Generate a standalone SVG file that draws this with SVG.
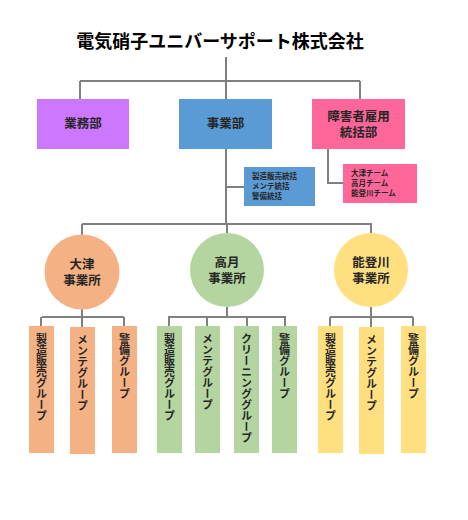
<svg xmlns="http://www.w3.org/2000/svg" width="468" height="520" viewBox="0 0 468 520">
<style>
text{font-family:"Noto Sans CJK JP","Noto Sans CJK SC",sans-serif;fill:#262626;}
.t{font-size:18px;font-weight:bold;fill:#000;}
.b{font-size:12.5px;font-weight:bold;text-anchor:middle;}
.s{font-size:7.5px;font-weight:bold;}
.v{font-family:"Noto Sans CJK JP",sans-serif;font-size:11px;font-weight:bold;writing-mode:vertical-rl;text-orientation:upright;}
.ln{stroke:#808080;stroke-width:2;fill:none;}
.o{fill:#F4B183;}
.g{fill:#B5D5A0;}
.y{fill:#FFDF80;}
</style>
<rect width="468" height="520" fill="#fff"/>
<g id="connectors" class="ln">
<path d="M226 57V81M80 81H360M80 81V99M226 81V99M360 81V99"/>
<path d="M226 149V224M226 187H244M328 149V183H343"/>
<path d="M82 224H372M82 224V235M227 224V233M371 224V233"/>
<path d="M82 309V317M42 317H124M41 317V326M82 317V327M124 317V326"/>
<path d="M227 307V317M168 317H286M169 317V326M207 317V326M247 317V326M285 317V326"/>
<path d="M371 307V317M330 317H413M330 317V326M371 317V327M413 317V326"/>
</g>
<g id="title"><text class="t" x="220" y="48" text-anchor="middle">電気硝子ユニバーサポート株式会社</text></g>
<g id="gyomu"><rect x="37" y="99" width="92" height="50" fill="#CC77FF"/><text class="b" x="83" y="128">業務部</text></g>
<g id="jigyo"><rect x="179" y="99" width="93" height="50" fill="#5B9BD5"/><text class="b" x="225.5" y="128">事業部</text></g>
<g id="shogai"><rect x="312" y="99" width="93" height="50" fill="#FF6699"/><text class="b" x="358.5" y="121">障害者雇用</text><text class="b" x="358.5" y="137">統括部</text></g>
<g id="jigyo-sub"><rect x="244" y="167" width="71" height="39" fill="#5B9BD5"/><text class="s" x="252" y="179">製造販売統括</text><text class="s" x="252" y="189">メンテ統括</text><text class="s" x="252" y="199">警備統括</text></g>
<g id="shogai-sub"><rect x="343" y="164" width="74" height="39" fill="#FF6699"/><text class="s" x="351" y="176">大津チーム</text><text class="s" x="351" y="186">高月チーム</text><text class="s" x="351" y="196">能登川チーム</text></g>
<g id="otsu"><circle cx="82" cy="272" r="37.5" class="o"/><text class="b" x="82" y="269">大津</text><text class="b" x="82" y="285">事業所</text></g>
<g id="takatsuki"><circle cx="227" cy="270" r="37" class="g"/><text class="b" x="227" y="267">高月</text><text class="b" x="227" y="283">事業所</text></g>
<g id="notogawa"><circle cx="371" cy="270" r="37" class="y"/><text class="b" x="371" y="267">能登川</text><text class="b" x="371" y="283">事業所</text></g>
<g id="o1"><rect x="29" y="326" width="25" height="127" class="o"/><text class="v" x="41.5" y="333">製造販売グループ</text></g>
<g id="o2"><rect x="70" y="327" width="25" height="127" class="o"/><text class="v" x="82.5" y="334">メンテグループ</text></g>
<g id="o3"><rect x="112" y="326" width="25" height="127" class="o"/><text class="v" x="124.5" y="333">警備グループ</text></g>
<g id="g1"><rect x="157" y="326" width="25" height="127" class="g"/><text class="v" x="169.5" y="333">製造販売グループ</text></g>
<g id="g2"><rect x="195" y="326" width="25" height="127" class="g"/><text class="v" x="207.5" y="333">メンテグループ</text></g>
<g id="g3"><rect x="234" y="326" width="25" height="127" class="g"/><text class="v" x="246.5" y="333">クリーニンググループ</text></g>
<g id="g4"><rect x="272" y="326" width="25" height="127" class="g"/><text class="v" x="284.5" y="333">警備グループ</text></g>
<g id="y1"><rect x="318" y="326" width="25" height="127" class="y"/><text class="v" x="330.5" y="333">製造販売グループ</text></g>
<g id="y2"><rect x="359" y="327" width="25" height="127" class="y"/><text class="v" x="371.5" y="334">メンテグループ</text></g>
<g id="y3"><rect x="401" y="326" width="25" height="127" class="y"/><text class="v" x="413.5" y="333">警備グループ</text></g>
</svg>
